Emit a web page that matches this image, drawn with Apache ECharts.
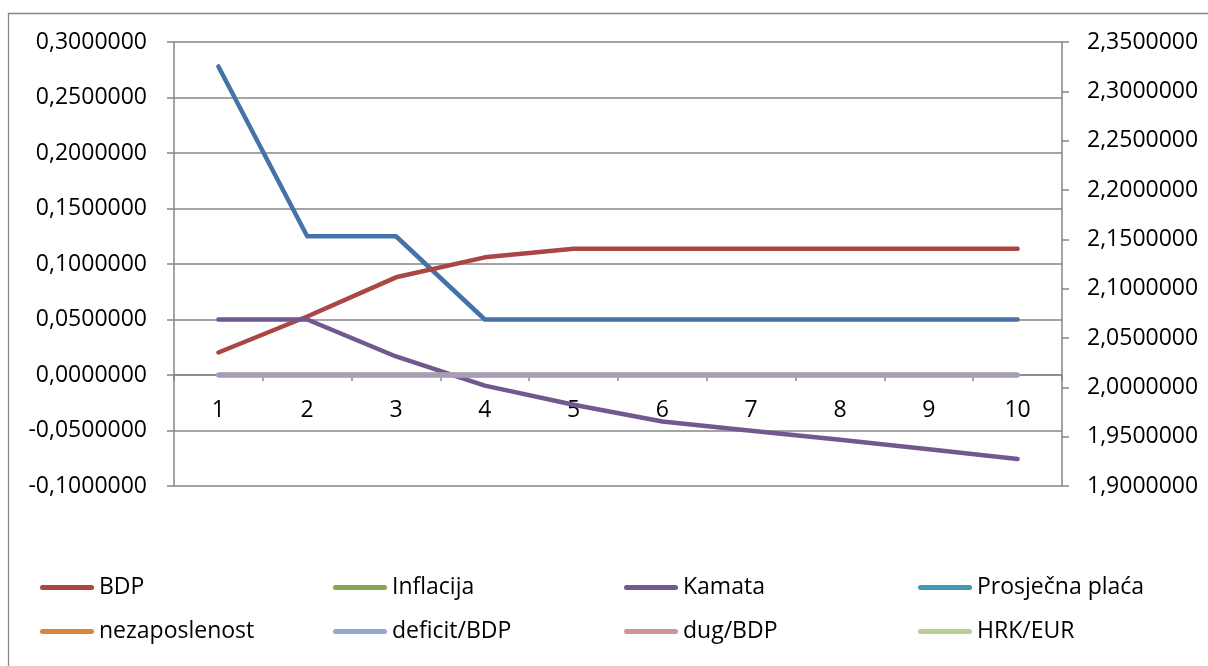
<!DOCTYPE html>
<html>
<head>
<meta charset="utf-8">
<script src="https://cdn.jsdelivr.net/npm/echarts@6/dist/echarts.min.js"></script>
<style>
html,body{margin:0;padding:0;background:#fff;}
#chart{width:1208px;height:666px;}
</style>
</head>
<body>
<div id="chart"></div>
<script>
const categories = ['1','2','3','4','5','6','7','8','9','10'];
const serija1 = [0.278, 0.125, 0.125, 0.05, 0.05, 0.05, 0.05, 0.05, 0.05, 0.05];
const bdp = [0.0203, 0.0527, 0.088, 0.106, 0.1137, 0.1137, 0.1137, 0.1137, 0.1137, 0.1137];
const inflacija = [0, 0, 0, 0, 0, 0, 0, 0, 0, 0];
const kamata = [0.05, 0.05, 0.0167, -0.0096, -0.0268, -0.0419, -0.0503, -0.0584, -0.0668, -0.0757];
const prosjecnaPlaca = [0, 0, 0, 0, 0, 0, 0, 0, 0, 0];
const nezaposlenost = [0, 0, 0, 0, 0, 0, 0, 0, 0, 0];
const deficitBdp = [0, 0, 0, 0, 0, 0, 0, 0, 0, 0];
const dugBdp = [0, 0, 0, 0, 0, 0, 0, 0, 0, 0];
const hrkEur = [0, 0, 0, 0, 0, 0, 0, 0, 0, 0];
const serija10 = [0, 0, 0, 0, 0, 0, 0, 0, 0, 0];
const leftAxis = {min: -0.1, max: 0.3, interval: 0.05};
const rightAxis = {min: 1.9, max: 2.35, interval: 0.05};

const FONT = '"Open Sans", "Noto Sans", sans-serif';
const FS = 23;
const GRID = '#868686';
const fmt = v => v.toFixed(7).replace('.', ',');

const W = 1208, H = 666;
const gridBox = {left: 174, right: 146, top: 42, bottom: 180};
const plotH = H - gridBox.top - gridBox.bottom;
// place the category axis where the left value axis crosses zero
const xAxisOffset = -plotH * (0 - leftAxis.min) / (leftAxis.max - leftAxis.min);

const defs = [
  {name: 'Serija 1', data: serija1, color: '#4572A7', legend: false},
  {name: 'BDP', data: bdp, color: '#AA4643', legend: true},
  {name: 'Inflacija', data: inflacija, color: '#89A54E', legend: true},
  {name: 'Kamata', data: kamata, color: '#71588F', legend: true},
  {name: 'Prosječna plaća', data: prosjecnaPlaca, color: '#4198AF', legend: true},
  {name: 'nezaposlenost', data: nezaposlenost, color: '#DB843D', legend: true},
  {name: 'deficit/BDP', data: deficitBdp, color: '#93A9CF', legend: true},
  {name: 'dug/BDP', data: dugBdp, color: '#D19392', legend: true},
  {name: 'HRK/EUR', data: hrkEur, color: '#B9CD96', legend: true},
  {name: 'Serija 10', data: serija10, color: '#A99BBD', legend: false}
];

const series = defs.map(d => ({
  name: d.name,
  type: 'line',
  xAxisIndex: 0,
  yAxisIndex: 0,
  data: d.data,
  symbol: 'none',
  smooth: false,
  color: d.color,
  lineStyle: {color: d.color, width: 4.5, cap: 'round', join: 'round'},
  emphasis: {disabled: true},
  animation: false,
  z: 3
}));

const legendNames = defs.filter(d => d.legend);
const colX = [40, 333, 624, 918];
const rowY = [576, 620];
const iconPath = 'path://M2.5,0 L51.5,0 A2.5,2.5 0 0 1 51.5,5 L2.5,5 A2.5,2.5 0 0 1 2.5,0 Z';
const legends = legendNames.map((d, i) => ({
  data: [d.name],
  left: colX[i % 4],
  top: rowY[Math.floor(i / 4)],
  padding: 0,
  icon: iconPath,
  itemWidth: 54,
  itemHeight: 5,
  selectedMode: false,
  itemStyle: {color: d.color},
  textStyle: {fontFamily: FONT, fontSize: FS, color: '#000'}
}));

const chart = echarts.init(document.getElementById('chart'), null, {renderer: 'canvas'});
chart.setOption({
  animation: false,
  backgroundColor: '#fff',
  graphic: [{
    type: 'rect',
    shape: {x: 8.5, y: 13.5, width: 1400, height: 800},
    style: {fill: 'none', stroke: GRID, lineWidth: 1.3},
    silent: true,
    z: -1
  }],
  grid: {left: gridBox.left, right: gridBox.right, top: gridBox.top, bottom: gridBox.bottom, containLabel: false},
  legend: legends,
  xAxis: {
    type: 'category',
    data: categories,
    boundaryGap: true,
    position: 'bottom',
    offset: xAxisOffset,
    axisLine: {show: true, onZero: false, lineStyle: {color: GRID, width: 1.5}},
    axisTick: {show: true, length: 6, lineStyle: {color: GRID, width: 1.5}},
    axisLabel: {fontFamily: FONT, fontSize: FS, color: '#000', margin: 24},
    splitLine: {show: false},
    z: 2
  },
  yAxis: [{
    type: 'value',
    position: 'left',
    min: leftAxis.min, max: leftAxis.max, interval: leftAxis.interval,
    axisLine: {show: true, onZero: false, lineStyle: {color: GRID, width: 1.5}},
    axisTick: {show: true, length: 7, lineStyle: {color: GRID, width: 1.5}},
    axisLabel: {fontFamily: FONT, fontSize: FS, color: '#000', margin: 27, formatter: fmt},
    splitLine: {show: true, lineStyle: {color: GRID, width: 1.5}}
  }, {
    type: 'value',
    position: 'right',
    min: rightAxis.min, max: rightAxis.max, interval: rightAxis.interval,
    axisLine: {show: true, onZero: false, lineStyle: {color: GRID, width: 1.5}},
    axisTick: {show: true, length: 7, lineStyle: {color: GRID, width: 1.5}},
    axisLabel: {fontFamily: FONT, fontSize: FS, color: '#000', margin: 25, formatter: fmt},
    splitLine: {show: false}
  }],
  series: series
});
</script>
</body>
</html>
